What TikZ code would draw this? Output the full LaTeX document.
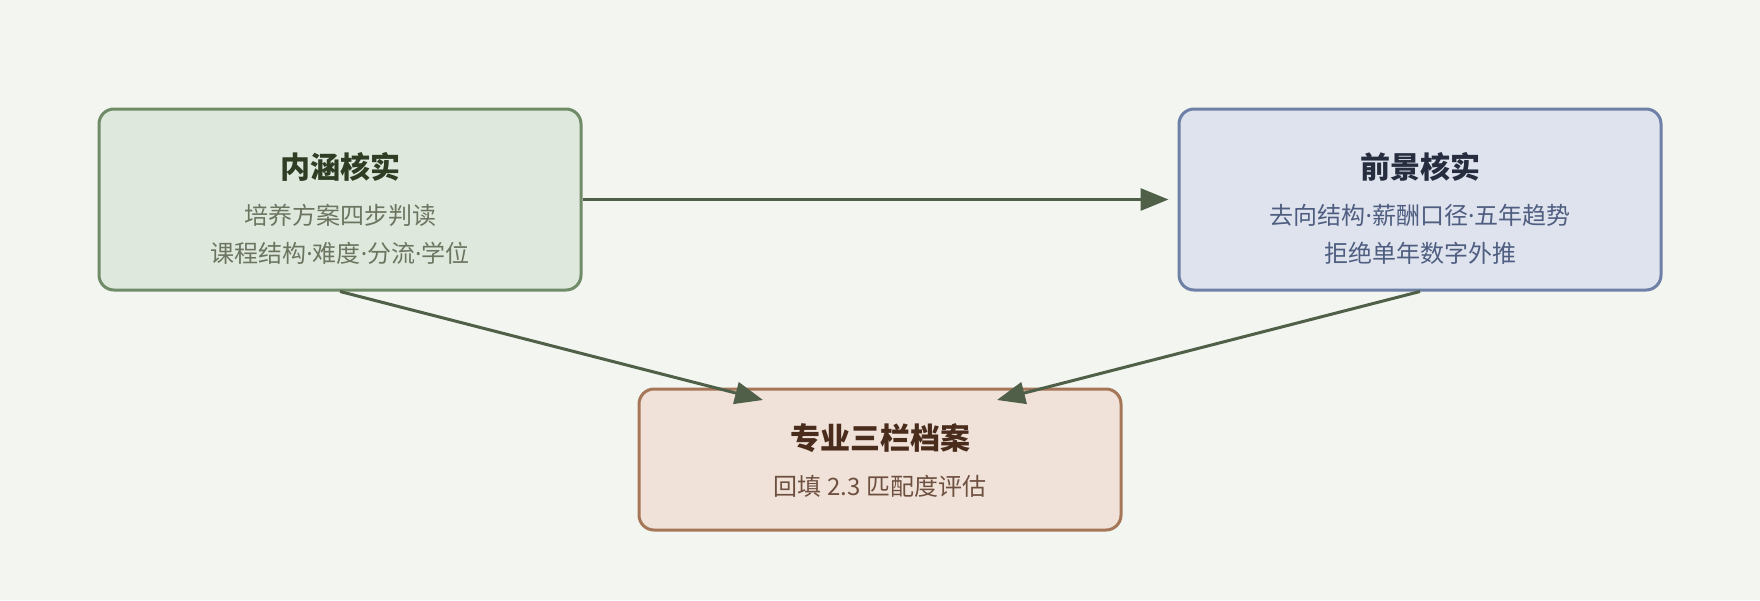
\documentclass[tikz,border=0pt]{standalone}
\usepackage{fontspec}
\setmainfont{Noto Sans CJK SC}
\newfontfamily\latinf{Noto Sans}
\newcommand{\mdot}{{\latinf ·}}
\usetikzlibrary{arrows.meta}
\definecolor{bg}{HTML}{F3F5F0}
\definecolor{afill}{HTML}{DFE8DC}
\definecolor{aline}{HTML}{6F8B68}
\definecolor{atitle}{HTML}{2E3D24}
\definecolor{atext}{HTML}{6B7560}
\definecolor{bfill}{HTML}{DEE3EE}
\definecolor{bline}{HTML}{6E80A6}
\definecolor{btitle}{HTML}{262D3E}
\definecolor{btext}{HTML}{4F5E80}
\definecolor{cfill}{HTML}{F0E2D8}
\definecolor{cline}{HTML}{A57658}
\definecolor{ctitle}{HTML}{4A2C1C}
\definecolor{ctext}{HTML}{6E5040}
\definecolor{arr}{HTML}{4F5F48}
\tikzset{
  boxnode/.style={draw, line width=3pt, rounded corners=15pt, inner sep=0pt},
  ttl/.style={font=\fontsize{30}{32}\selectfont\bfseries, inner sep=0pt, anchor=center},
  sub/.style={font=\fontsize{24}{27}\selectfont, inner sep=0pt, anchor=center},
  conn/.style={draw=arr, line width=3pt, -{Triangle[length=28pt,width=22pt]}}
}
\begin{document}
\begin{tikzpicture}[x=1pt,y=-1pt]
\fill[bg] (0,0) rectangle (1760,600);
\useasboundingbox (0,0) rectangle (1760,600);
% boxes
\node[boxnode, fill=afill, draw=aline, minimum width=482pt, minimum height=181pt] (A) at (340,199.5) {};
\node[boxnode, fill=bfill, draw=bline, minimum width=482pt, minimum height=181pt] (B) at (1420,199.5) {};
\node[boxnode, fill=cfill, draw=cline, minimum width=482pt, minimum height=141pt] (C) at (880,459.5) {};
% texts
\node[ttl, text=atitle] (At) at (340,167) {内涵核实};
\node[sub, text=atext] (As1) at (340,215) {培养方案四步判读};
\node[sub, text=atext] (As2) at (340,253) {课程结构\mdot 难度\mdot 分流\mdot 学位};
\node[ttl, text=btitle] (Bt) at (1420,167) {前景核实};
\node[sub, text=btext] (Bs1) at (1420,215) {去向结构\mdot 薪酬口径\mdot 五年趋势};
\node[sub, text=btext] (Bs2) at (1420,253) {拒绝单年数字外推};
\node[ttl, text=ctitle] (Ct) at (880,438) {专业三栏档案};
\node[sub, text=ctext] (Cs1) at (880,486) {回填 2.3 匹配度评估};
% connectors
\coordinate (cl) at (763,400);
\coordinate (cr) at (997,400);
\draw[conn, shorten >=9pt] (A.east) -- (B.west);
\draw[conn] (A.south) -- (cl);
\draw[conn] (B.south) -- (cr);
\end{tikzpicture}
\end{document}
